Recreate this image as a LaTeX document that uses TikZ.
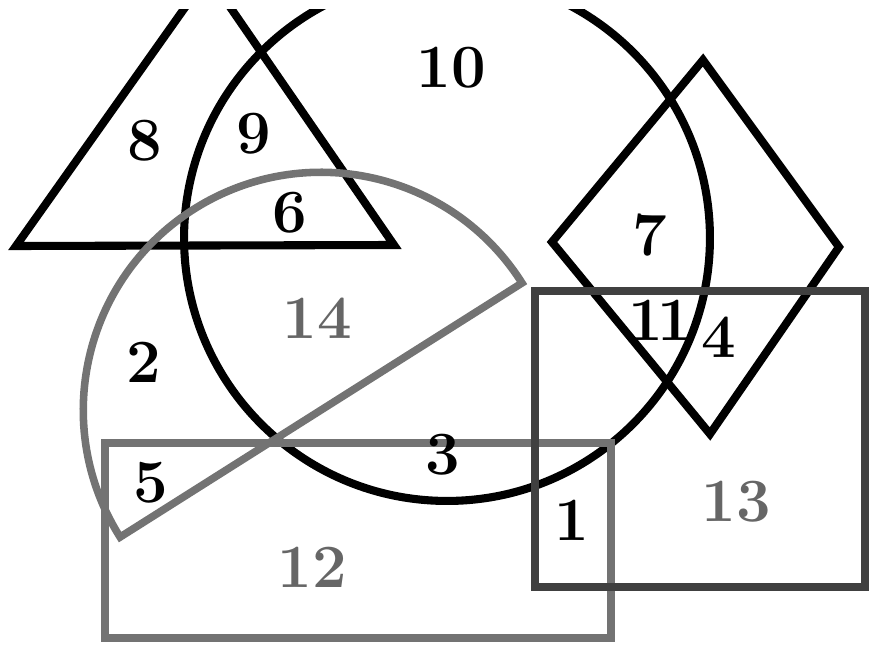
\documentclass[tikz,border=0pt]{standalone}
\usepackage{xcolor}
\usepackage{tikz}

\begin{document}
\begin{tikzpicture}[
    x=0.02cm, y=-0.02cm,
    every node/.style={font=\fontsize{35}{35}\selectfont\bfseries, inner sep=0pt},
    outline/.style={draw=black, line width=4.6pt},
    pale/.style={draw=black!55, line width=4.3pt},
    dim/.style={text=black!60}
]
\useasboundingbox (0,0) rectangle (879,645);
% top strip of the sheet is left blank
\clip (0,10) rectangle (879,645);

% triangle, apex cut off by the top edge
\coordinate (triL) at (16,246);
\coordinate (triT) at (208,-25);
\coordinate (triR) at (394,245);
\draw[outline] (triL) -- (triT) -- (triR) -- cycle;

% big circle
\coordinate (circC) at (447,238);
\draw[outline] (circC) circle[radius=5.26cm];

% diamond
\coordinate (diaT) at (703,60);
\coordinate (diaR) at (839,247);
\coordinate (diaB) at (710,434);
\coordinate (diaL) at (552,242);
\draw[outline] (diaT) -- (diaR) -- (diaB) -- (diaL) -- cycle;

% half disc
\coordinate (halfE) at (522,283);
\draw[pale] (halfE) arc[start angle=32.3, end angle=212.3, radius=4.756cm] -- cycle;

% lower rectangle
\coordinate (recNW) at (105,443);
\coordinate (recSE) at (611,638);
\draw[pale] (recNW) rectangle (recSE);

% square on the right
\coordinate (sqNW) at (535,291);
\coordinate (sqSE) at (865,587);
\draw[outline, draw=black!75] (sqNW) rectangle (sqSE);

% region numbers
\node (n1) at (572,520) {1};
\node (n2) at (144,362) {2};
\node (n3) at (443,455) {3};
\node (n4) at (719,337) {4};
\node (n5) at (151,483) {5};
\node (n6) at (290,213) {6};
\node (n7) at (650,235) {7};
\node (n8) at (145,141) {8};
\node (n9) at (254,134) {9};
\node (n10) at (451,68) {10};
\node (n11) at (660,320) {1\kern-3pt1};
\node[dim] (n12) at (312,567) {12};
\node[dim] (n13) at (736,502) {13};
\node[dim] (n14) at (317,318) {14};
\end{tikzpicture}
\end{document}
